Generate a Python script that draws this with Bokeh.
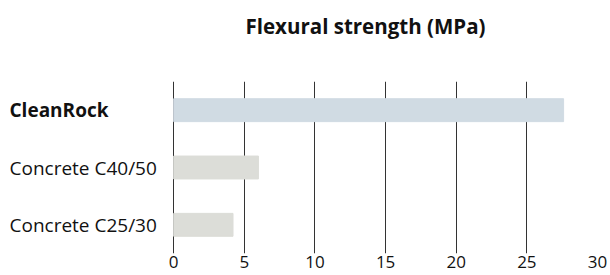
from bokeh.plotting import figure
from bokeh.models import ColumnDataSource, FixedTicker, Range1d, Title
from bokeh.core.properties import value
from bokeh.embed import file_html
from bokeh.resources import INLINE

title_text = "Flexural strength (MPa)"
categories = ["CleanRock", "Concrete C40/50", "Concrete C25/30"]
values = [27.6, 6.0, 4.2]
colors = ["#d0dbe3", "#dcddd8", "#dcddd8"]
styles = ["bold", "normal", "normal"]
x_ticks = [0, 5, 10, 15, 20, 25, 30]

FONT = "Open Sans"
X_MIN = -12.26   # room on the left for the category labels
X_MAX = 30

source = ColumnDataSource(dict(cat=categories, val=values, color=colors,
                               style=styles, start=[X_MIN] * len(categories)))

p = figure(y_range=list(reversed(categories)), x_range=Range1d(X_MIN, X_MAX),
           width=610, height=275, output_backend="svg", toolbar_location=None,
           min_border_left=0, min_border_right=13, min_border_top=81,
           min_border_bottom=22)

p.hbar(y="cat", left=0, right="val", height=0.4, color="color", source=source)

p.text(x="start", y="cat", text="cat", source=source, x_offset=9,
       text_align="left", text_baseline="middle", text_font=value(FONT),
       text_font_size="19px", text_color="#111111", text_font_style="style")

p.outline_line_color = None
p.background_fill_color = None
p.border_fill_color = "white"

p.xgrid.ticker = FixedTicker(ticks=x_ticks)
p.xgrid.grid_line_color = "#333333"
p.xgrid.grid_line_width = 1
p.ygrid.grid_line_color = None
p.xgrid.level = "underlay"

p.xaxis.ticker = FixedTicker(ticks=x_ticks)
p.xaxis.axis_line_color = None
p.xaxis.major_tick_line_color = None
p.xaxis.minor_tick_line_color = None
p.xaxis.major_tick_out = 0
p.xaxis.major_tick_in = 0
p.xaxis.major_label_text_font = FONT
p.xaxis.major_label_text_font_size = "17px"
p.xaxis.major_label_text_color = "#111111"
p.xaxis.major_label_standoff = 2

p.yaxis.visible = False

# thin spacer panel between the frame and the title
spacer = Title(text=" ", text_font_size="1px", standoff=39)
p.add_layout(spacer, "above")

p.title.text = title_text
p.title.text_font = FONT
p.title.text_font_size = "20.5px"
p.title.text_font_style = "bold"
p.title.text_color = "#111111"
p.title.align = "left"
p.title.offset = 245
p.title.standoff = 0

open("out.html", "w").write(file_html(p, INLINE))
